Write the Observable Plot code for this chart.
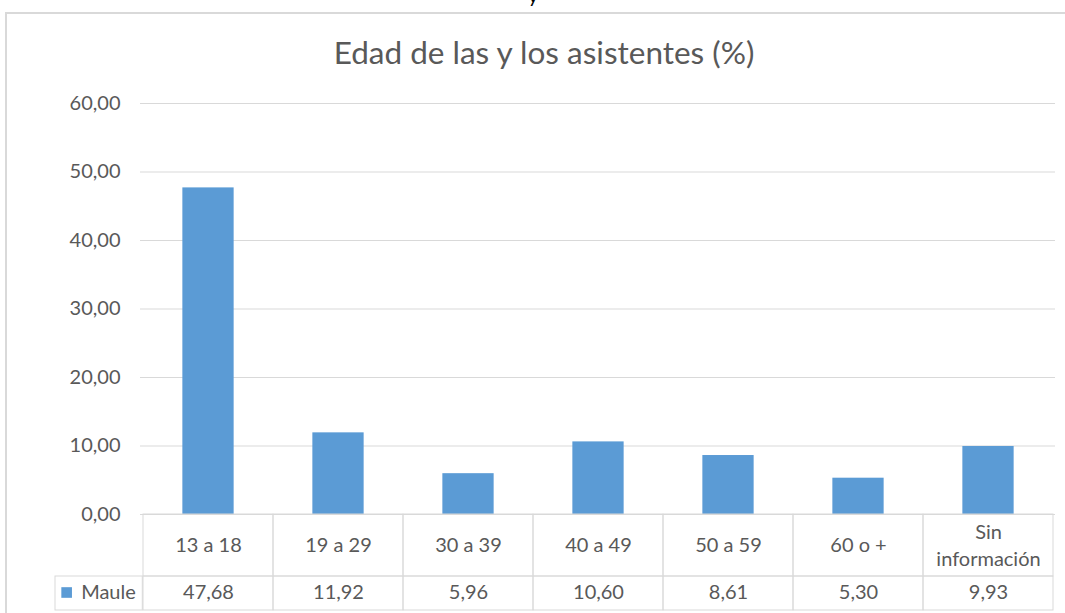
<!DOCTYPE html>
<html><head><meta charset="utf-8">
<script src="https://cdn.jsdelivr.net/npm/d3@7"></script>
<script src="https://cdn.jsdelivr.net/npm/@observablehq/plot@0.6"></script>
<style>
body{margin:0;background:#fff;}
#wrap{position:relative;width:1065px;height:613px;overflow:hidden;}
#border{position:absolute;left:5px;top:12px;width:1100px;height:700px;border:2px solid #d9d9d9;box-sizing:border-box}
#frag{position:absolute;left:528px;top:-17px;font:20px Lato,sans-serif;color:#000}
#chart{position:absolute;left:0;top:0}
</style></head><body>
<div id="wrap"><div id="border"></div><div id="frag">y</div><div id="chart"></div></div>
<script>
const categories = ["13 a 18", "19 a 29", "30 a 39", "40 a 49", "50 a 59", "60 o +", "Sin\ninformación"];
const values = [47.68, 11.92, 5.96, 10.60, 8.61, 5.30, 9.93];
const seriesName = "Maule";
const yTicks = [0, 10, 20, 30, 40, 50, 60];
const title = "Edad de las y los asistentes (%)";

const rows = categories.map((c, i) => ({category: c, value: values[i]}));
const fmt = d3.formatLocale({decimal: ",", thousands: ".", grouping: [3], currency: ["", ""]}).format(".2f");

const W = 1065, H = 613, mL = 140, mR = 10, mT = 103, mB = 99;
const step = (W - mL - mR) / categories.length;
const barW = 52;
const inset = (step - barW) / 2;
const row1 = 62, row2 = 34, legendW = 88;
const grid = "#d9d9d9", blue = "#5b9bd5", ink = "#595959";

const chart = Plot.plot({
  width: W, height: H,
  marginLeft: mL, marginRight: mR, marginTop: mT, marginBottom: mB,
  style: {fontFamily: "Lato, sans-serif", fontSize: "20px", color: ink, background: "transparent", overflow: "visible"},
  x: {type: "band", domain: categories, padding: 0, axis: null},
  y: {domain: [0, 60], ticks: yTicks, tickFormat: fmt, tickSize: 0, tickPadding: 20, label: null},
  marks: [
    Plot.ruleY(yTicks, {stroke: grid, strokeWidth: 1}),
    Plot.barY(rows, {x: "category", y: "value", fill: blue, insetLeft: inset, insetRight: inset}),
    // data table: header row cells
    Plot.barY(categories, {x: d => d, y1: 0, y2: 0, insetBottom: -row1, fill: "none", stroke: grid}),
    // data table: value row cells
    Plot.barY(categories, {x: d => d, y1: 0, y2: 0, insetTop: row1, insetBottom: -(row1 + row2), fill: "none", stroke: grid}),
    // legend cell
    Plot.barY([categories[0]], {x: d => d, y1: 0, y2: 0, insetTop: row1, insetBottom: -(row1 + row2), insetLeft: -legendW, insetRight: step, fill: "none", stroke: grid}),
    Plot.text(categories, {x: d => d, y: 0, dy: row1 / 2 - 2, text: d => d, lineHeight: 1.35, fill: ink}),
    Plot.text(rows, {x: "category", y: 0, dy: row1 + row2 / 2 - 1, text: d => fmt(d.value), fill: ink}),
    Plot.dot([categories[0]], {x: d => d, y: 0, dx: -step / 2 - legendW + 11.5, dy: row1 + row2 / 2 - 1, symbol: "square", r: 6, fill: blue}),
    Plot.text([seriesName], {x: () => categories[0], y: 0, dx: -step / 2 - legendW + 26, dy: row1 + row2 / 2 - 1, text: d => d, textAnchor: "start", fill: ink}),
    Plot.text([title], {frameAnchor: "top", lineAnchor: "middle", dx: -54, dy: -50, text: d => d, fontSize: 31.5, fill: ink})
  ]
});
document.getElementById("chart").appendChild(chart);
</script>
</body></html>
